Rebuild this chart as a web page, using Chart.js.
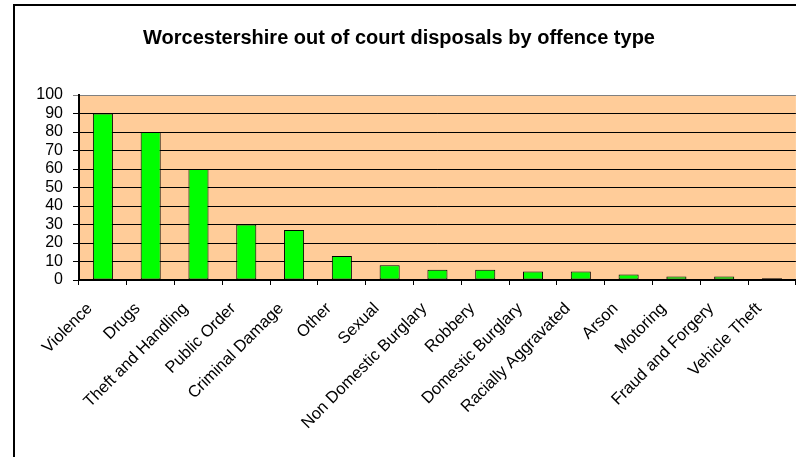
<!DOCTYPE html>
<html>
<head>
<meta charset="utf-8">
<script src="https://cdn.jsdelivr.net/npm/chart.js@4/dist/chart.umd.min.js"></script>
<style>
  html, body { margin: 0; padding: 0; background: #fff; overflow: hidden; width: 796px; height: 457px; }
  #wrap { position: absolute; left: 0; top: 0; width: 800px; height: 457px; }
  #frame { position: absolute; left: 13px; top: 4px; width: 800px; height: 470px; border-left: 2px solid #000; border-top: 2px solid #000; pointer-events: none; }
</style>
</head>
<body>
<div id="wrap"><canvas id="c" width="800" height="457"></canvas></div>
<div id="frame"></div>
<script>
const chartTitle = "Worcestershire out of court disposals by offence type";
const categories = ["Violence", "Drugs", "Theft and Handling", "Public Order", "Criminal Damage", "Other", "Sexual", "Non Domestic Burglary", "Robbery", "Domestic Burglary", "Racially Aggravated", "Arson", "Motoring", "Fraud and Forgery", "Vehicle Theft"];
const values = [90, 80, 60, 30, 27, 13, 8, 5.5, 5.5, 4.6, 4.6, 3, 1.9, 1.9, 1];
const yTicks = [0, 10, 20, 30, 40, 50, 60, 70, 80, 90, 100];

const FONT = "'Liberation Sans', Arial, sans-serif";

const bgPlugin = {
  id: 'bg',
  beforeDraw(chart) {
    const a = chart.chartArea, ctx = chart.ctx;
    ctx.save();
    ctx.fillStyle = '#FFCC99';
    ctx.fillRect(a.left, a.top, a.right - a.left, a.bottom - a.top);
    ctx.restore();
  },
  afterDraw(chart) {
    const ctx = chart.ctx;
    ctx.save();
    ctx.fillStyle = '#000';
    ctx.font = "bold 20px " + FONT;
    ctx.textAlign = 'center';
    ctx.textBaseline = 'middle';
    ctx.fillText(chartTitle, 399, 38);
    ctx.restore();
  }
};

new Chart(document.getElementById('c'), {
  type: 'bar',
  data: {
    labels: categories,
    datasets: [{
      data: values,
      backgroundColor: '#00FF00',
      borderColor: '#000000',
      borderWidth: 1,
      borderSkipped: false,
      categoryPercentage: 1,
      barPercentage: 0.42
    }]
  },
  options: {
    responsive: false,
    animation: false,
    layout: { padding: { top: 95, left: 0, right: 0, bottom: 0 } },
    plugins: { legend: { display: false }, title: { display: false }, tooltip: { enabled: false } },
    scales: {
      x: {
        afterFit(s) { s.height = 177; },
        grid: { display: true, drawOnChartArea: false, drawTicks: true, tickLength: 5, color: '#000', offset: true },
        border: { display: true, color: '#000', width: 2 },
        ticks: { color: '#000', font: { family: FONT, size: 16.5 }, minRotation: 45, maxRotation: 45, autoSkip: false, padding: 14, labelOffset: -13 }
      },
      y: {
        min: 0, max: 100,
        afterFit(s) { s.width = 79; },
        afterBuildTicks(s) { s.ticks = yTicks.map(v => ({ value: v })); },
        grid: {
          color: ctx => (ctx.tick && ctx.tick.value === 100) ? '#808080' : '#000',
          lineWidth: 1, tickLength: 6, drawTicks: true
        },
        border: { display: true, color: '#000', width: 2 },
        ticks: { color: '#000', font: { family: FONT, size: 16 }, padding: 10, autoSkip: false }
      }
    }
  },
  plugins: [bgPlugin]
});
</script>
</body>
</html>
